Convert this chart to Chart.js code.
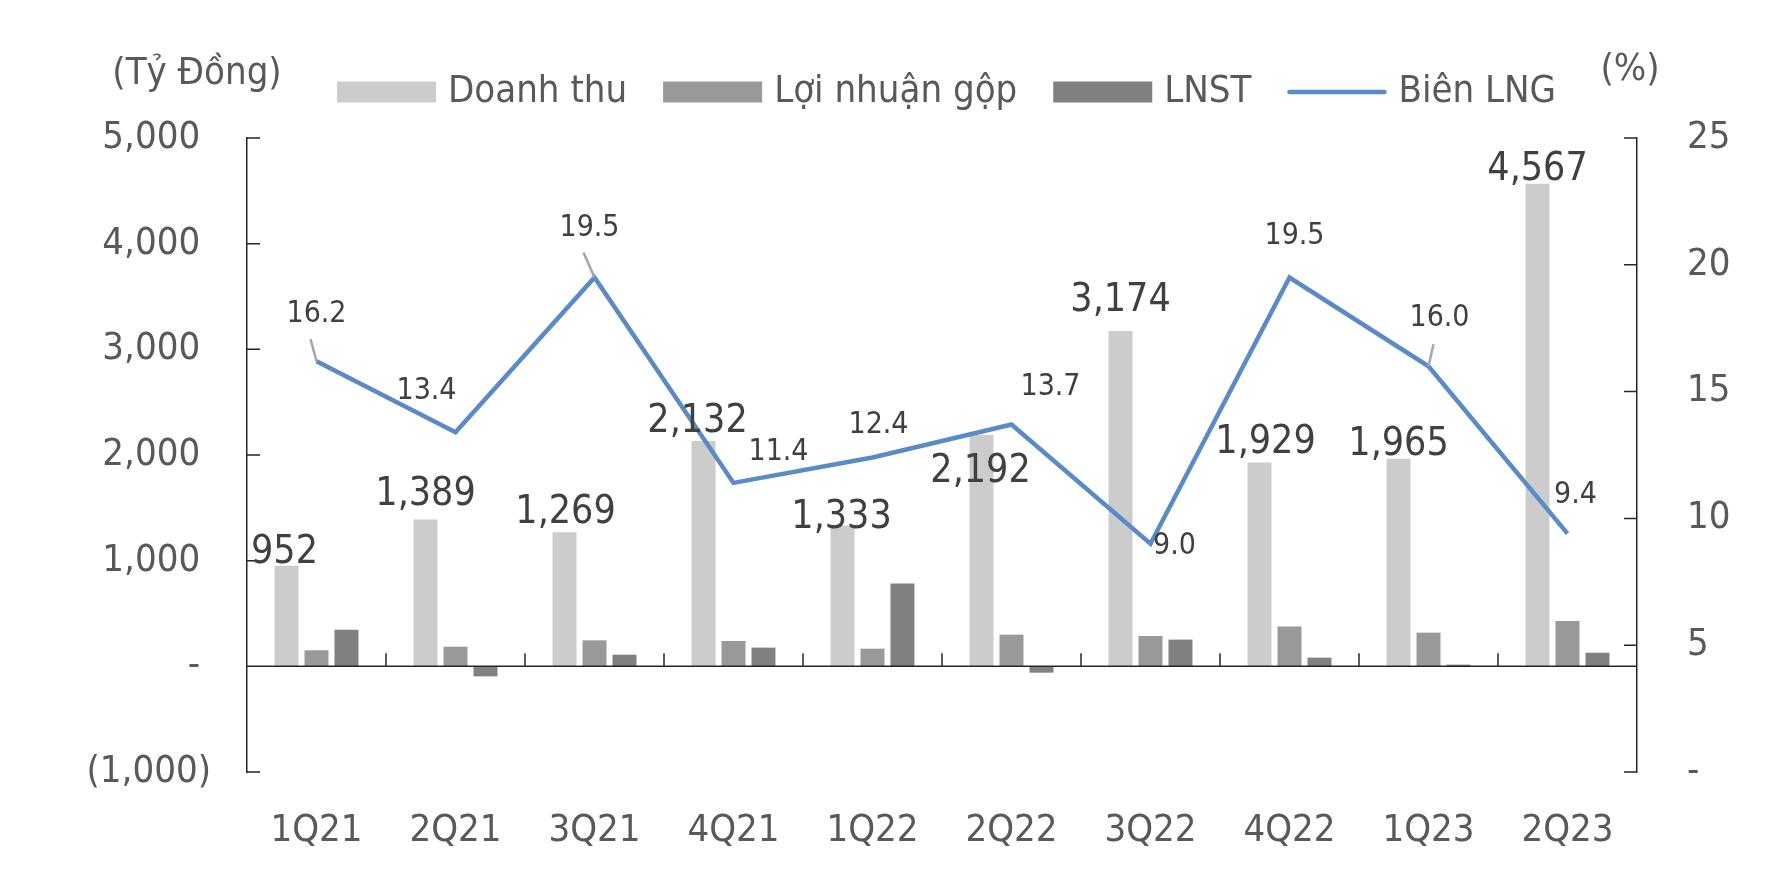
<!DOCTYPE html>
<html>
<head>
<meta charset="utf-8">
<script src="https://cdn.jsdelivr.net/npm/chart.js@4.4.1/dist/chart.umd.min.js"></script>
<style>
html, body { margin: 0; padding: 0; background: #fff; }
#wrap { width: 1782px; height: 878px; }
</style>
</head>
<body>
<div id="wrap"><canvas id="chart" width="1782" height="878"></canvas></div>
<script>
// Quarter labels and values (billion VND, margin in %)
const quarters = ['1Q21', '2Q21', '3Q21', '4Q21', '1Q22', '2Q22', '3Q22', '4Q22', '1Q23', '2Q23'];
const revenue = [952, 1389, 1269, 2132, 1333, 2192, 3174, 1929, 1965, 4567];
const grossProfit = [152, 186, 246, 240, 167, 300, 287, 376, 319, 429];
const netProfit = [347, -95, 110, 177, 783, -60, 253, 82, 16, 129];
const grossMargin = [16.2, 13.4, 19.5, 11.4, 12.4, 13.7, 9.0, 19.5, 16.0, 9.4];

// Axis ranges
const leftAxis = { min: -1000, max: 5000, step: 1000 };
const rightAxis = { min: 0, max: 25, step: 5 };

// Label nudges (px) so labels sit where they are in the original
const revenueLabelShift = [[-2, 7], [0, -5], [1, 0], [-6, 0], [-1, 12], [-1, 57], [0, -11], [6, 0], [0, 6], [0, 6]];
const marginLabelShift = [[0, -47], [-29, -41], [-5, -49], [45, -31], [6, -32], [39, -37], [24, 2], [5, -41], [11, -48], [8, -38]];
const marginLeaders = { 0: [-6, -22], 2: [-11, -25], 8: [5, -22] };

const FONT = "'DejaVu Sans Condensed', 'DejaVu Sans', sans-serif";
const TEXT = '#595959';
const DARK = '#404040';
const AXIS = '#262626';

function fmtLeft(v) {
  if (v === 0) return '- ';
  if (v < 0) return '(' + Math.abs(v).toLocaleString('en-US') + ')';
  return v.toLocaleString('en-US') + ' ';
}

// Draws axes ticks, zero line, legend, unit captions and data labels
const decorations = {
  id: 'decorations',
  afterDatasetsDraw(chart) {
    const ctx = chart.ctx;
    const area = chart.chartArea;
    const y = chart.scales.y, y1 = chart.scales.y1;
    ctx.save();
    ctx.strokeStyle = AXIS;
    ctx.lineWidth = 1.5;
    // zero line
    const zy = y.getPixelForValue(0);
    ctx.beginPath();
    ctx.moveTo(area.left, zy);
    ctx.lineTo(area.right, zy);
    // inward ticks on both value axes
    for (let v = leftAxis.min; v <= leftAxis.max; v += leftAxis.step) {
      const py = y.getPixelForValue(v);
      ctx.moveTo(area.left, py);
      ctx.lineTo(area.left + 13, py);
    }
    for (let v = rightAxis.min; v <= rightAxis.max; v += rightAxis.step) {
      const py = y1.getPixelForValue(v);
      ctx.moveTo(area.right, py);
      ctx.lineTo(area.right - 13, py);
    }
    // category separators on the zero line
    const cw = (area.right - area.left) / quarters.length;
    for (let i = 1; i < quarters.length; i++) {
      const px = area.left + cw * i;
      ctx.moveTo(px, zy);
      ctx.lineTo(px, zy - 13);
    }
    ctx.stroke();

    // revenue labels
    const revMeta = chart.getDatasetMeta(0);
    ctx.fillStyle = DARK;
    ctx.font = '39px ' + FONT;
    ctx.textAlign = 'center';
    ctx.textBaseline = 'bottom';
    revMeta.data.forEach((bar, i) => {
      const s = revenueLabelShift[i];
      ctx.fillText(revenue[i].toLocaleString('en-US'), bar.x + s[0], bar.y + s[1]);
    });

    // margin labels with leader lines
    const lineMeta = chart.getDatasetMeta(3);
    ctx.strokeStyle = '#a6a6a6';
    ctx.lineWidth = 2.5;
    Object.keys(marginLeaders).forEach(k => {
      const p = lineMeta.data[k];
      const d = marginLeaders[k];
      ctx.beginPath();
      ctx.moveTo(p.x, p.y);
      ctx.lineTo(p.x + d[0], p.y + d[1]);
      ctx.stroke();
    });
    ctx.font = '30px ' + FONT;
    ctx.textBaseline = 'middle';
    lineMeta.data.forEach((p, i) => {
      const s = marginLabelShift[i];
      ctx.fillText(grossMargin[i].toFixed(1), p.x + s[0], p.y + s[1]);
    });

    // legend, flowing from the left
    ctx.font = '38px ' + FONT;
    ctx.textAlign = 'left';
    const ds = chart.data.datasets;
    let lx = area.left + 90;
    const ly = 92;
    ds.forEach(d => {
      if (d.type === 'line') {
        ctx.strokeStyle = d.borderColor;
        ctx.lineWidth = 4.5;
        ctx.lineCap = 'round';
        ctx.beginPath();
        ctx.moveTo(lx + 2, ly);
        ctx.lineTo(lx + 97, ly);
        ctx.stroke();
      } else {
        ctx.fillStyle = d.backgroundColor;
        ctx.fillRect(lx, ly - 10.5, 99, 21);
      }
      ctx.fillStyle = TEXT;
      ctx.fillText(d.label, lx + 111, ly);
      lx += 111 + ctx.measureText(d.label).width + 36;
    });

    // unit captions
    ctx.textAlign = 'center';
    ctx.fillText('(Tỷ Đồng)', area.left - 50, 74);
    ctx.fillText('(%)', area.right - 7, 70);
    ctx.restore();
  }
};

const tickFont = { family: FONT, size: 38 };

new Chart(document.getElementById('chart'), {
  type: 'bar',
  data: {
    labels: quarters,
    datasets: [
      { label: 'Doanh thu', data: revenue, backgroundColor: '#cccccc', yAxisID: 'y', order: 1 },
      { label: 'Lợi nhuận gộp', data: grossProfit, backgroundColor: '#999999', yAxisID: 'y', order: 1 },
      { label: 'LNST', data: netProfit, backgroundColor: '#808080', yAxisID: 'y', order: 1 },
      { type: 'line', label: 'Biên LNG', data: grossMargin, borderColor: '#5b8bc7', backgroundColor: '#5b8bc7',
        borderWidth: 4.5, pointRadius: 0, tension: 0, yAxisID: 'y1', order: 0 }
    ]
  },
  options: {
    responsive: false,
    devicePixelRatio: 1,
    animation: false,
    layout: { padding: { top: 138, left: 0, right: 0, bottom: 0 } },
    datasets: { bar: { categoryPercentage: 0.647, barPercentage: 0.8 } },
    plugins: { legend: { display: false }, tooltip: { enabled: false } },
    scales: {
      x: {
        grid: { display: false },
        border: { display: false },
        ticks: { font: tickFont, color: TEXT, padding: 28, maxRotation: 0 },
        afterFit(s) { s.height = 106; }
      },
      y: {
        position: 'left',
        min: leftAxis.min, max: leftAxis.max,
        ticks: { stepSize: leftAxis.step, font: tickFont, color: TEXT, padding: 36, callback: v => fmtLeft(v) },
        grid: { display: false, drawTicks: false },
        border: { display: true, color: AXIS, width: 1.5 },
        afterFit(s) { s.width = 247; }
      },
      y1: {
        position: 'right',
        min: rightAxis.min, max: rightAxis.max,
        ticks: { stepSize: rightAxis.step, font: tickFont, color: TEXT, padding: 50, callback: v => (v === 0 ? '-' : v) },
        grid: { display: false, drawTicks: false },
        border: { display: true, color: AXIS, width: 1.5 },
        afterFit(s) { s.width = 145; }
      }
    }
  },
  plugins: [decorations]
});
</script>
</body>
</html>
